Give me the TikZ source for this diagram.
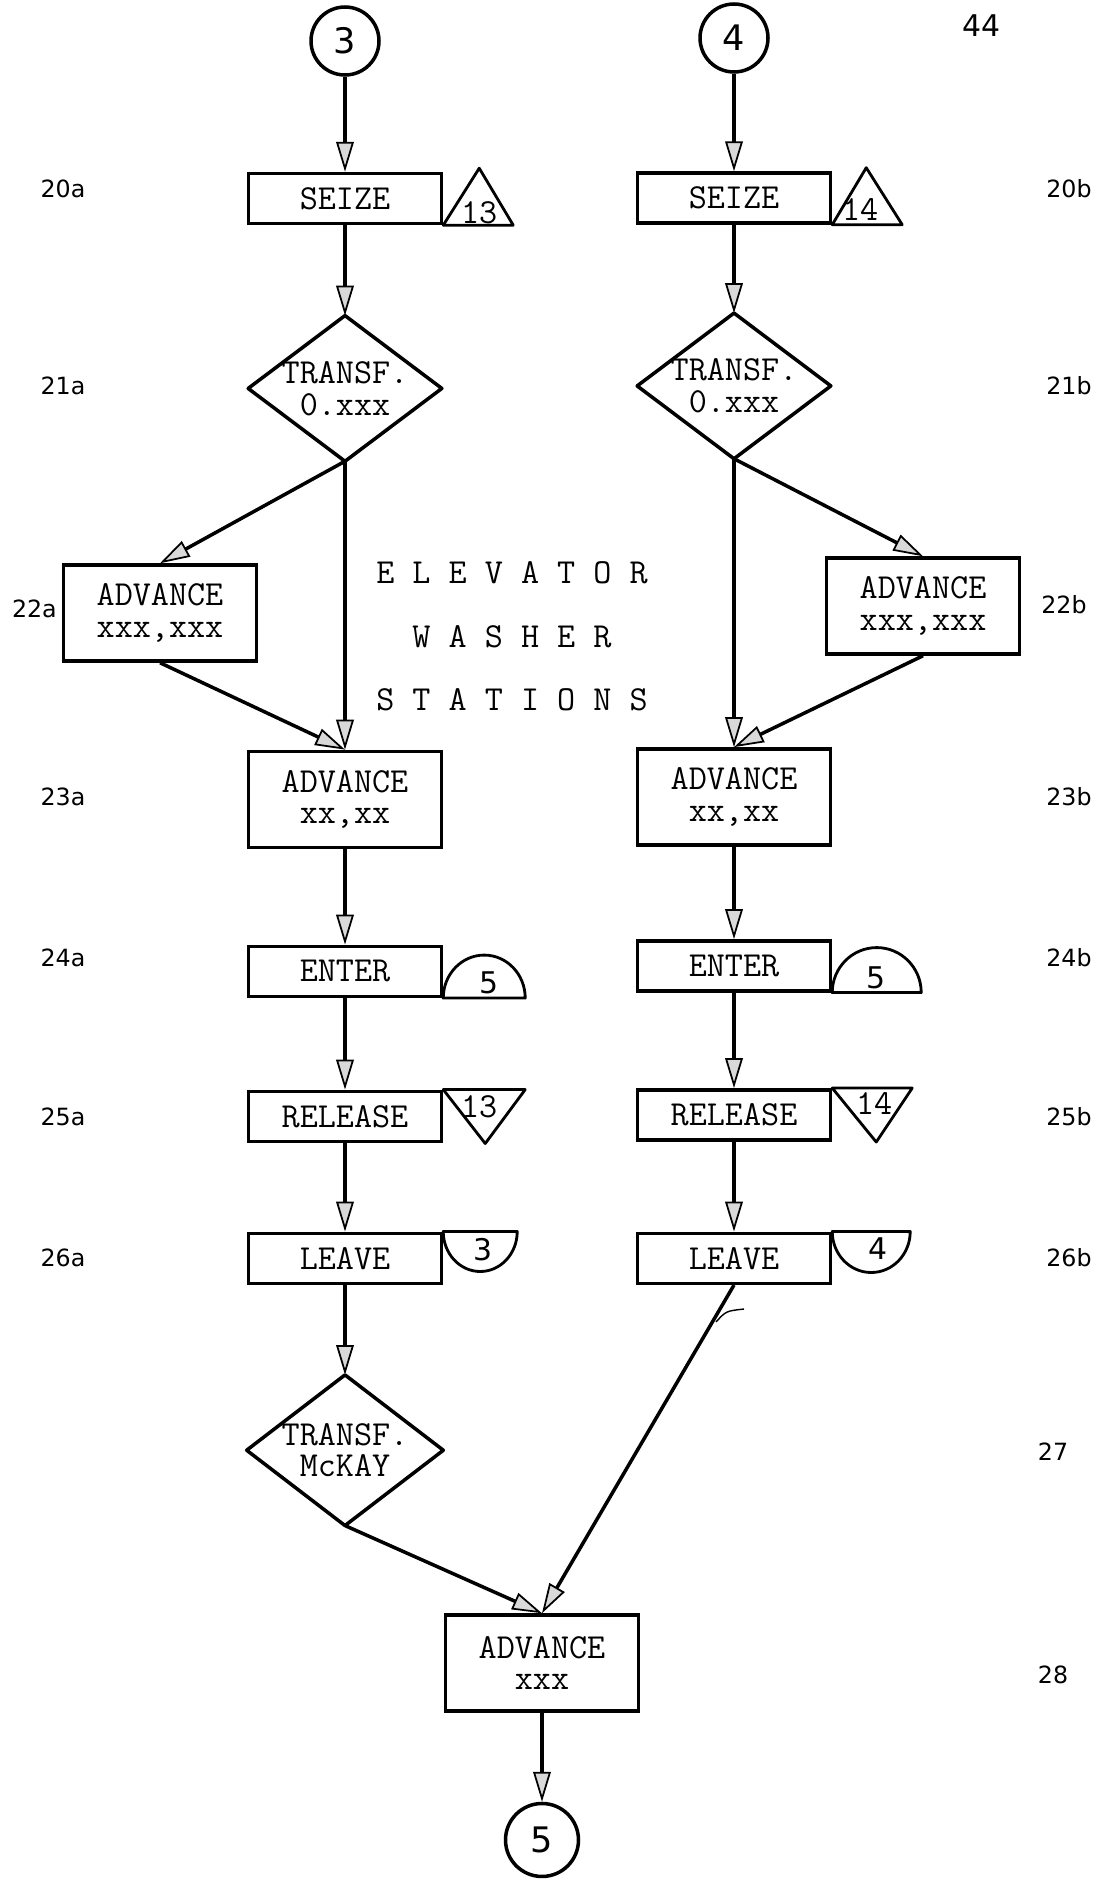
\documentclass[tikz,border=0pt]{standalone}
\usepackage{fontspec}
\usetikzlibrary{arrows.meta, positioning}
\newfontfamily\handfont{DejaVu Sans}

\begin{document}
\begin{tikzpicture}[
    x=0.02cm, y=-0.02cm,
    box/.style={rectangle, draw, line width=2pt, minimum width=3.86cm, minimum height=1cm, inner sep=2pt, align=center, font=\ttfamily\fontsize{20}{18}\selectfont},
    bigbox/.style={box, minimum height=1.92cm},
    decision/.style={rectangle, minimum width=3.86cm, minimum height=2.9cm, inner sep=0pt, align=center, font=\ttfamily\fontsize{20}{18}\selectfont},
    outline/.style={line width=2pt, line join=round},
    symb/.style={line width=1.6pt, line join=round},
    conn/.style={circle, draw, line width=2pt, minimum size=1.36cm, inner sep=0pt, font=\handfont\fontsize{20}{20}\selectfont},
    arrow/.style={-{Triangle[length=17pt, width=10pt, fill=gray!30, line width=1pt]}, line width=2pt},
    tag/.style={font=\handfont\fontsize{13.5}{14}\selectfont},
    num/.style={inner sep=0pt, font=\ttfamily\fontsize{20}{20}\selectfont},
    hand/.style={inner sep=0pt, font=\handfont\fontsize{17}{17}\selectfont},
    banner/.style={font=\ttfamily\fontsize{20}{20}\selectfont}
]

\fill [white] (0,0) rectangle (1112,1879);
\useasboundingbox (0,0) rectangle (1112,1879);

% left chain
\node (circ3) [conn] at (345,41) {3};
\node (seizeA) [box, below of=circ3, node distance=3.15cm] {SEIZE};
\node (diaA) [decision, below of=seizeA, node distance=3.8cm] {TRANSF.\\0.xxx};
\node (adv23a) [bigbox, below of=diaA, node distance=8.22cm] {ADVANCE\\xx,xx};
\node (enterA) [box, below of=adv23a, node distance=3.44cm] {ENTER};
\node (releaseA) [box, below of=enterA, node distance=2.9cm] {RELEASE};
\node (leaveA) [box, below of=releaseA, node distance=2.84cm] {LEAVE};
\node (mckay) [decision, minimum width=3.92cm, minimum height=3cm, below of=leaveA, node distance=3.84cm] {TRANSF.\\McKAY};

% right chain
\node (circ4) [conn] at (734,38) {4};
\node (seizeB) [box, below of=circ4, node distance=3.2cm] {SEIZE};
\node (diaB) [decision, below of=seizeB, node distance=3.76cm] {TRANSF.\\0.xxx};
\node (adv23b) [bigbox, below of=diaB, node distance=8.22cm] {ADVANCE\\xx,xx};
\node (enterB) [box, below of=adv23b, node distance=3.38cm] {ENTER};
\node (releaseB) [box, below of=enterB, node distance=2.98cm] {RELEASE};
\node (leaveB) [box, below of=releaseB, node distance=2.87cm] {LEAVE};

% side branches and exit
\node (adv22a) [bigbox] at (160,613) {ADVANCE\\xxx,xxx};
\node (adv22b) [bigbox] at (923,606) {ADVANCE\\xxx,xxx};
\node (advX) [bigbox] at (542,1663) {ADVANCE\\xxx};
\node (circ5) [conn, minimum size=1.46cm, below of=advX, node distance=3.54cm] {5};

\node (titleA) [banner] at (512,573) {E L E V A T O R};
\node (titleB) [banner] at (512,637) {W A S H E R};
\node (titleC) [banner] at (512,700) {S T A T I O N S};

% diamonds
\draw [outline] (diaA.north) -- (diaA.east) -- (diaA.south) -- (diaA.west) -- cycle;
\draw [outline] (diaB.north) -- (diaB.east) -- (diaB.south) -- (diaB.west) -- cycle;
\draw [outline] (mckay.north) -- (mckay.east) -- (mckay.south) -- (mckay.west) -- cycle;

% facility and storage symbols
\draw [symb] (seizeA.south east) -- ++(36,-57) -- ++(34,57) -- cycle;
\node (facA) [num] at ([shift={(36,-12)}]seizeA.south east) {13};
\draw [symb] (seizeB.south east) -- ++(34,-57) -- ++(36,57) -- cycle;
\node (facB) [num] at ([shift={(28,-15)}]seizeB.south east) {14};

\draw [symb] (enterA.south east) arc[start angle=180, end angle=0, x radius=0.82cm, y radius=0.86cm] -- cycle;
\node (stoA) [hand] at ([shift={(46,-15)}]enterA.south east) {5};
\draw [symb] (enterB.south east) arc[start angle=180, end angle=0, x radius=0.89cm, y radius=0.9cm] -- cycle;
\node (stoB) [hand] at ([shift={(44,-15)}]enterB.south east) {5};

\draw [symb] (releaseA.north east) -- ++(82,0) -- ++(-40,54) -- cycle;
\node (relA) [num] at ([shift={(36,17)}]releaseA.north east) {13};
\draw [symb] (releaseB.north east) -- ++(80,0) -- ++(-36,54) -- cycle;
\node (relB) [num] at ([shift={(42,15)}]releaseB.north east) {14};

\draw [symb] (leaveA.north east) arc[start angle=180, end angle=360, x radius=0.74cm, y radius=0.8cm] -- cycle;
\node (lvA) [hand] at ([shift={(40,18)}]leaveA.north east) {3};
\draw [symb] (leaveB.north east) arc[start angle=180, end angle=360, x radius=0.78cm, y radius=0.82cm] -- cycle;
\node (lvB) [hand] at ([shift={(46,17)}]leaveB.north east) {4};

% connectors
\draw [arrow] (circ3) -- (seizeA);
\draw [arrow] (seizeA) -- (diaA.north);
\draw [arrow] (diaA.south) -- (adv22a.north);
\draw [arrow] (diaA.south) -- (adv23a.north);
\draw [arrow] (adv22a.south) -- (adv23a.north);
\draw [arrow] (adv23a) -- (enterA);
\draw [arrow] (enterA) -- (releaseA);
\draw [arrow] (releaseA) -- (leaveA);
\draw [arrow] (leaveA) -- (mckay.north);
\draw [arrow] (mckay.south) -- (advX.north);

\draw [arrow] (circ4) -- (seizeB);
\draw [arrow] (seizeB) -- (diaB.north);
\draw [arrow] (diaB.south) -- (adv22b.north);
\draw [arrow] (diaB.south) -- (adv23b.north);
\draw [arrow] (adv22b.south) -- (adv23b.north);
\draw [arrow] (adv23b) -- (enterB);
\draw [arrow] (enterB) -- (releaseB);
\draw [arrow] (releaseB) -- (leaveB);
\draw [arrow] (leaveB.south) -- (advX.north);
\draw [arrow] (advX) -- (circ5);

\draw [line width=0.8pt] (716,1322) .. controls (726,1311) .. (744,1309);

% block numbers
\node (pageno) [hand] at (981,26) {44};
\node (l20a) [tag] at (63,189) {20a};
\node (l21a) [tag] at (63,386) {21a};
\node (l22a) [tag, anchor=east] at (63,609) {22a};
\node (l23a) [tag] at (63,797) {23a};
\node (l24a) [tag] at (63,958) {24a};
\node (l25a) [tag] at (63,1117) {25a};
\node (l26a) [tag] at (63,1258) {26a};
\node (l20b) [tag] at (1069,189) {20b};
\node (l21b) [tag] at (1069,386) {21b};
\node (l22b) [tag] at (1064,605) {22b};
\node (l23b) [tag] at (1069,797) {23b};
\node (l24b) [tag] at (1069,958) {24b};
\node (l25b) [tag] at (1069,1117) {25b};
\node (l26b) [tag] at (1069,1258) {26b};
\node (l27) [tag] at (1053,1452) {27};
\node (l28) [tag] at (1053,1675) {28};

\end{tikzpicture}
\end{document}
